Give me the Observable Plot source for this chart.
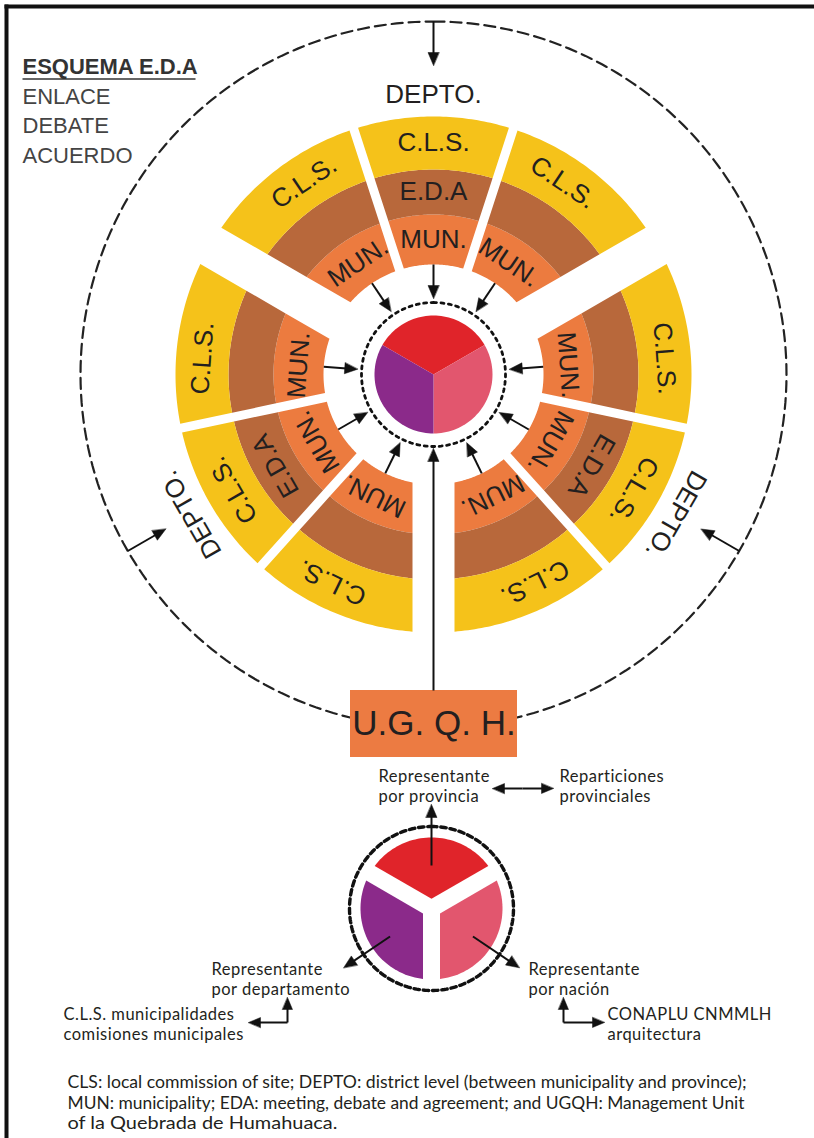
<!DOCTYPE html>
<html>
<head>
<meta charset="utf-8">
<script src="https://cdn.jsdelivr.net/npm/d3@7"></script>
<script src="https://cdn.jsdelivr.net/npm/@observablehq/plot@0.6"></script>
<style>
  html, body { margin: 0; padding: 0; background: #fff; }
  #chart svg { display: block; }
</style>
</head>
<body>
<div id="chart"></div>
<script>
// ================= DATA (content) =================
const titleText = "ESQUEMA E.D.A";
const stages = ["ENLACE", "DEBATE", "ACUERDO"];
const departments = ["DEPTO.", "DEPTO.", "DEPTO."];
const bandLabels = ["MUN.", "E.D.A", "C.L.S."];            // inner -> outer ring band
const sectorKinds = ["lateral", "central", "lateral"];      // three sectors per department
const coreRoles = ["provincia", "nación", "departamento"];
const representatives = ["Representante\npor provincia", "Representante\npor nación", "Representante\npor departamento"];
const partners = ["Reparticiones\nprovinciales", "CONAPLU CNMMLH\narquitectura", "C.L.S. municipalidades\ncomisiones municipales"];
const unitLabel = "U.G. Q. H.";
const footnoteLines = [
  "CLS: local commission of site; DEPTO: district level (between municipality and province);",
  "MUN: municipality; EDA: meeting, debate and agreement; and UGQH: Management Unit",
  "of la Quebrada de Humahuaca."
];

// ================= LAYOUT & STYLE =================
const W = 814, H = 1138;
const C = {x: 433, y: 374};                 // centre of the upper scheme
const deptAngles = [0, 120, 240];
const sectorEdges = [-60, -18, 18, 60];
const sectorLabelOffsets = [-34, 0, 34];
const bandRadii = [110, 160, 205, 258];
const bandColors = ["#ec7b3f", "#b8683b", "#f5c21a"];
const gapNarrow = 4.5, gapWide = 21;
const coreR = 59, coreRingR = 72, outerRingR = 353, deptLabelR = 280;
const coreSpans = [[-60, 60], [60, 180], [180, 300]];
const coreColors = ["#e0242a", "#e2566e", "#8b2a8a"];
const Lc = {x: 431, y: 908};                // centre of the lower pie
const lowerR = 71, lowerRingR = 82, lowerGap = 8.5;
const box = {x1: 350, x2: 517, y1: 690, y2: 757};
const ringFont = "Liberation Sans, Arial, sans-serif";
const labelFont = "Lato, Open Sans, sans-serif";
const ink = "#231f20";
const footWidths = [679, 677, 270];

// ================= GEOMETRY HELPERS =================
const deg = Math.PI / 180;
const polar = (c, a, r) => ({x: c.x + r * Math.sin(a * deg), y: c.y - r * Math.cos(a * deg)});
function sectorPoly(c, a0, a1, g0, g1, r0, r1, steps = 48) {
  const d = (g, r) => Math.asin(Math.min(1, g / r)) / deg;
  const pts = [];
  const s = a0 + d(g0, r1), e = a1 - d(g1, r1);
  for (let i = 0; i <= steps; i++) pts.push(polar(c, s + (e - s) * i / steps, r1));
  if (r0 > 0) {
    const s2 = a1 - d(g1, r0), e2 = a0 + d(g0, r0);
    for (let i = 0; i <= steps; i++) pts.push(polar(c, s2 + (e2 - s2) * i / steps, r0));
  } else {
    const half = (a1 - a0) / 2;
    const apex = g0 > 0 ? g0 / Math.sin(half * deg) : 0;
    pts.push(polar(c, a0 + half, apex));
  }
  return pts;
}
function circlePts(c, r, id, n = 240) {
  return d3.range(n).map(i => ({...polar(c, 360 * i / n, r), id}));
}
const shafts = [], heads = [];
function addArrow(p1, p2, len = 13, hw = 5.5) {
  const dx = p2.x - p1.x, dy = p2.y - p1.y, l = Math.hypot(dx, dy);
  const ux = dx / l, uy = dy / l;
  const bx = p2.x - ux * len, by = p2.y - uy * len;
  shafts.push({x1: p1.x, y1: p1.y, x2: bx + ux * 2, y2: by + uy * 2});
  const id = "h" + heads.length;
  heads.push({x: p2.x, y: p2.y, id}, {x: bx - uy * hw, y: by + ux * hw, id}, {x: bx + uy * hw, y: by - ux * hw, id});
}

// ================= BUILD MARK DATA =================
const polys = [], ringTexts = [];
departments.forEach((dept, k) => {
  const c0 = deptAngles[k];
  sectorKinds.forEach((kind, j) => {
    const a0 = c0 + sectorEdges[j], a1 = c0 + sectorEdges[j + 1];
    const g0 = j === 0 ? gapWide : gapNarrow, g1 = j === 2 ? gapWide : gapNarrow;
    const la = c0 + sectorLabelOffsets[j];
    bandLabels.forEach((lab, b) => {
      const id = `s${k}-${j}-${b}`;
      sectorPoly(C, a0, a1, g0, g1, bandRadii[b], bandRadii[b + 1]).forEach(p => polys.push({...p, id, fill: bandColors[b]}));
      if (kind === "central" || b !== 1) {
        const p = polar(C, la, (bandRadii[b] + bandRadii[b + 1]) / 2);
        ringTexts.push({...p, text: lab, rotate: la});
      }
    });
    addArrow(polar(C, la, bandRadii[0]), polar(C, la, 76));
  });
  // outer DEPTO arrow and label
  addArrow(polar(C, c0, outerRingR), polar(C, c0, 309));
  ringTexts.push({...polar(C, c0, deptLabelR), text: dept, rotate: c0});
});
// core pies (upper, lower)
coreRoles.forEach((role, i) => {
  sectorPoly(C, coreSpans[i][0], coreSpans[i][1], 0, 0, 0, coreR).forEach(p => polys.push({...p, id: "core" + i, fill: coreColors[i]}));
  sectorPoly(Lc, coreSpans[i][0], coreSpans[i][1], lowerGap, lowerGap, 0, lowerR).forEach(p => polys.push({...p, id: "low" + i, fill: coreColors[i]}));
});
// long arrow from U.G.Q.H. to the core
addArrow({x: C.x, y: box.y1}, polar(C, 180, 74));
// lower pie arrows
const lowerArrowAngles = [0, 124, 236], lowerArrowR = [[43, 104], [50, 106], [50, 106]];
coreRoles.forEach((r, i) => addArrow(polar(Lc, lowerArrowAngles[i], lowerArrowR[i][0]), polar(Lc, lowerArrowAngles[i], lowerArrowR[i][1])));
// double arrow provincia <-> reparticiones
addArrow({x: 522, y: 788}, {x: 492, y: 788}, 12, 5);
addArrow({x: 522, y: 788}, {x: 553, y: 788}, 12, 5);
// elbow arrows
addArrow({x: 287, y: 1022}, {x: 287, y: 997}, 12, 5);
addArrow({x: 287, y: 1022}, {x: 248, y: 1022}, 12, 5);
addArrow({x: 563, y: 1022}, {x: 563, y: 997}, 12, 5);
addArrow({x: 563, y: 1022}, {x: 604, y: 1022}, 12, 5);

const dashCircles = circlePts(C, outerRingR, "outer");
const coreRing = circlePts(C, coreRingR, "core");
const lowerRing = circlePts(Lc, lowerRingR, "lower");

const stageRows = stages.map((s, i) => ({x: 22, y: 96 + i * 29.5, text: s}));
const repRows = [
  {x: 378, y: 785, text: representatives[0]},
  {x: 528, y: 978, text: representatives[1]},
  {x: 211, y: 978, text: representatives[2]},
  {x: 559, y: 785, text: partners[0]},
  {x: 607, y: 1023, text: partners[1]},
  {x: 63, y: 1023, text: partners[2]}
];
const footRows = footnoteLines.map((t, i) => ({x: 67, y: 1082 + i * 20.6, text: t}));
const frame = [{x1: 4, y1: 6, x2: W, y2: 6}, {x1: 6, y1: 4, x2: 6, y2: H}];

// ================= PLOT =================
const chart = Plot.plot({
  width: W, height: H, margin: 0,
  x: {domain: [0, W], range: [0, W], axis: null},
  y: {domain: [0, H], range: [0, H], axis: null},
  color: {type: "identity"},
  style: {background: "#fff", overflow: "visible"},
  marks: [
    Plot.link(frame, {x1: "x1", y1: "y1", x2: "x2", y2: "y2", stroke: "#111", strokeWidth: 4}),
    Plot.line(dashCircles, {x: "x", y: "y", z: "id", curve: "linear-closed", stroke: "#222", strokeWidth: 2.2, strokeDasharray: "11 6"}),
    Plot.line(polys, {x: "x", y: "y", z: "id", fill: "fill", stroke: null, curve: "linear-closed"}),
    Plot.line(coreRing, {x: "x", y: "y", z: "id", curve: "linear-closed", stroke: "#111", strokeWidth: 2.8, strokeDasharray: "3 4.5"}),
    Plot.line(lowerRing, {x: "x", y: "y", z: "id", curve: "linear-closed", stroke: "#111", strokeWidth: 3.4, strokeDasharray: "5.5 3.8"}),
    Plot.rect([box], {x1: "x1", x2: "x2", y1: "y1", y2: "y2", fill: "#ec7b42"}),
    Plot.link(shafts, {x1: "x1", y1: "y1", x2: "x2", y2: "y2", stroke: "#111", strokeWidth: 2}),
    Plot.line(heads, {x: "x", y: "y", z: "id", fill: "#111", stroke: "#111", strokeWidth: 0.5, curve: "linear-closed"}),
    Plot.text(ringTexts, {x: "x", y: "y", text: "text", rotate: "rotate", fontFamily: ringFont, fontSize: 26, fill: ink}),
    Plot.text([{x: (box.x1 + box.x2) / 2, y: (box.y1 + box.y2) / 2}], {x: "x", y: "y", text: () => unitLabel, fontFamily: ringFont, fontSize: 35, fill: ink}),
    Plot.text([{x: 22, y: 66}], {x: "x", y: "y", text: () => titleText, textAnchor: "start", fontFamily: ringFont, fontWeight: "bold", fontSize: 22, fill: "#333"}),
    Plot.link([{x1: 22, x2: 195, y: 78.5}], {x1: "x1", x2: "x2", y1: "y", y2: "y", stroke: "#333", strokeWidth: 1.6}),
    Plot.text(stageRows, {x: "x", y: "y", text: "text", textAnchor: "start", fontFamily: ringFont, fontSize: 22, fill: "#444"}),
    Plot.text(repRows, {x: "x", y: "y", text: "text", textAnchor: "start", lineHeight: 1.2, fontFamily: labelFont, fontSize: 16.5, fill: ink, className: "replabels"}),
    Plot.text(footRows, {x: "x", y: "y", text: "text", textAnchor: "start", fontFamily: labelFont, fontSize: 17, fill: ink, className: "footnote"})
  ]
});
// condense the footnote lines to the reference's line lengths
d3.select(chart).selectAll(".footnote text").each(function(_, i) {
  d3.select(this).attr("textLength", footWidths[i]).attr("lengthAdjust", "spacingAndGlyphs");
});
d3.select(chart).selectAll(".replabels text").style("letter-spacing", "0.5px");
document.getElementById("chart").appendChild(chart);
</script>
</body>
</html>
